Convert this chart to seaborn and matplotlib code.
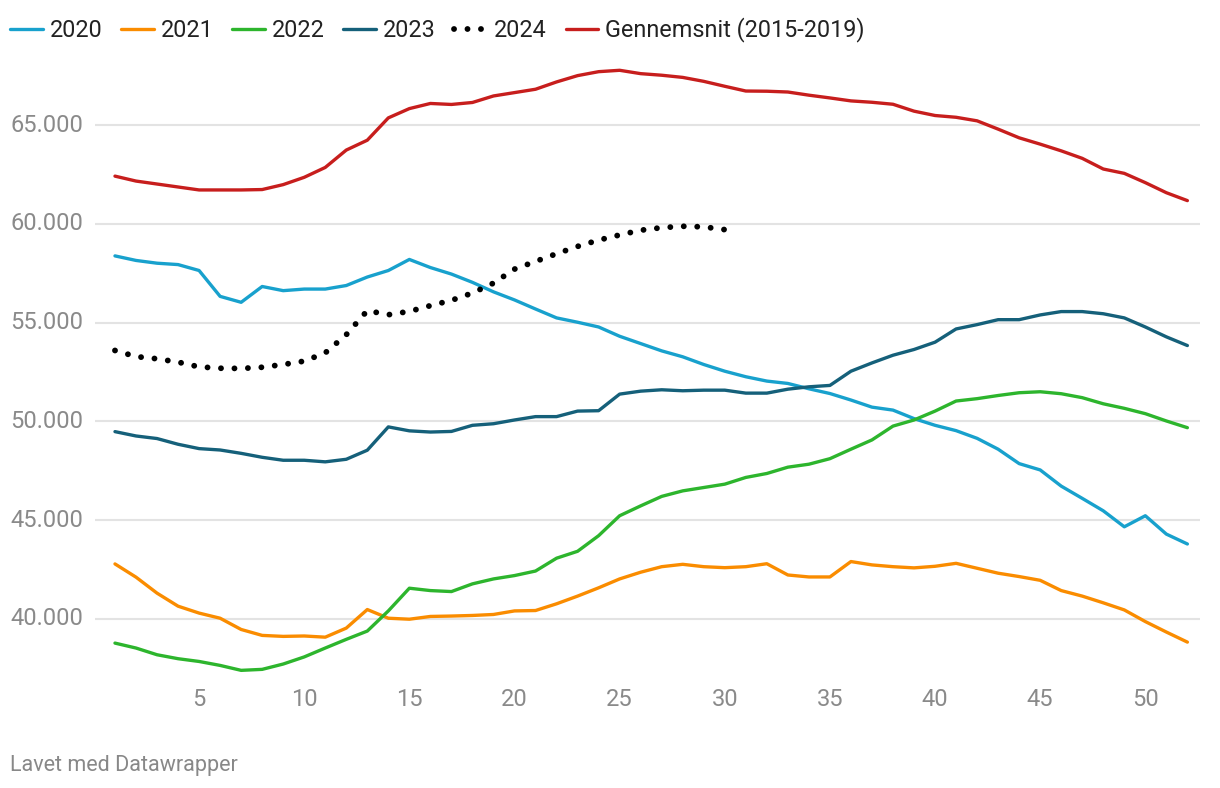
import pandas as pd
import matplotlib.pyplot as plt
import seaborn as sns

# uger 1-52
weeks = list(range(1, 53))

y2020 = [58380, 58150, 58010, 57940, 57640, 56330, 56030, 56830, 56620, 56700,
         56700, 56880, 57310, 57640, 58200, 57790, 57460, 57040, 56560, 56150,
         55690, 55240, 55020, 54780, 54310, 53940, 53570, 53270, 52880, 52540,
         52260, 52040, 51920, 51650, 51410, 51080, 50720, 50570, 50140, 49800,
         49530, 49140, 48590, 47860, 47540, 46720, 46100, 45470, 44660, 45220,
         44290, 43790]
y2021 = [42780, 42110, 41300, 40640, 40290, 40030, 39460, 39160, 39110, 39130,
         39070, 39530, 40470, 40030, 39980, 40120, 40140, 40170, 40220, 40400,
         40420, 40760, 41150, 41570, 42020, 42360, 42640, 42760, 42640, 42590,
         42640, 42790, 42220, 42120, 42120, 42900, 42730, 42640, 42580, 42660,
         42810, 42560, 42310, 42140, 41950, 41430, 41150, 40810, 40450, 39860,
         39330, 38820]
y2022 = [38770, 38520, 38180, 37980, 37840, 37640, 37390, 37440, 37710, 38070,
         38520, 38960, 39380, 40400, 41550, 41430, 41380, 41770, 42020, 42190,
         42420, 43070, 43420, 44210, 45220, 45720, 46200, 46480, 46650, 46820,
         47160, 47360, 47680, 47830, 48110, 48590, 49060, 49760, 50070, 50520,
         51030, 51150, 51310, 51450, 51500, 51400, 51200, 50890, 50660, 50390,
         50020, 49680]
y2023 = [49480, 49260, 49130, 48840, 48620, 48550, 48380, 48180, 48030, 48030,
         47950, 48080, 48540, 49720, 49520, 49460, 49490, 49800, 49880, 50070,
         50240, 50240, 50520, 50540, 51380, 51530, 51600, 51550, 51580, 51580,
         51430, 51430, 51630, 51750, 51820, 52540, 52960, 53350, 53640, 54010,
         54680, 54900, 55150, 55150, 55390, 55560, 55560, 55450, 55240, 54780,
         54280, 53840]
y2024 = [53590, 53280, 53170, 53000, 52760, 52690, 52680, 52740, 52880, 53050,
         53470, 54390, 55610, 55400, 55570, 55860, 56130, 56500, 57000, 57710,
         58100, 58490, 58860, 59180, 59440, 59680, 59810, 59880, 59850, 59710]
gennemsnit = [62420, 62170, 62020, 61870, 61720, 61720, 61720, 61740, 61990, 62360,
              62860, 63740, 64240, 65370, 65840, 66100, 66050, 66150, 66480, 66650,
              66820, 67190, 67510, 67710, 67780, 67610, 67530, 67420, 67220, 66970,
              66730, 66720, 66680, 66520, 66380, 66230, 66160, 66060, 65710, 65490,
              65400, 65220, 64800, 64360, 64040, 63700, 63320, 62780, 62560, 62090,
              61580, 61180]

series = [
    ("2020", y2020, "#18a1cd"),
    ("2021", y2021, "#fa8c00"),
    ("2022", y2022, "#2db52d"),
    ("2023", y2023, "#15607a"),
    ("2024", y2024, "#000000"),
    ("Gennemsnit (2015-2019)", gennemsnit, "#c71e1d"),
]

sns.set_theme(style="white")
plt.rcParams['font.family'] = ['Roboto', 'DejaVu Sans']

fig = plt.figure(figsize=(12.2, 7.88), dpi=100)
ax = fig.add_axes([95 / 1220, 1 - 682 / 788, 1105 / 1220, 620 / 788])

for navn, vals, farve in series:
    df = pd.DataFrame({'uge': weeks[:len(vals)], 'antal': vals})
    if navn == "2024":
        sns.lineplot(data=df, x='uge', y='antal', ax=ax, color=farve, label=navn,
                     linewidth=4.2, linestyle=(0, (0.01, 2.3)),
                     dash_capstyle='round')
    else:
        sns.lineplot(data=df, x='uge', y='antal', ax=ax, color=farve, label=navn,
                     linewidth=2.4)

ax.set_xlim(0.05, 52.6)
ax.set_ylim(36800, 68200)
ax.set_xticks([5, 10, 15, 20, 25, 30, 35, 40, 45, 50])
yt = [40000, 45000, 50000, 55000, 60000, 65000]
ax.set_yticks(yt)
ax.set_yticklabels([f"{v:,}".replace(",", ".") for v in yt])
ax.yaxis.grid(True, color='#e3e3e3', linewidth=1.5)
ax.xaxis.grid(False)
for s in ax.spines.values():
    s.set_visible(False)
ax.tick_params(axis='both', length=0, labelsize=17, labelcolor='#8a8a8a')
ax.tick_params(axis='x', pad=4)
ax.tick_params(axis='y', pad=61)
for lab in ax.get_yticklabels():
    lab.set_horizontalalignment('left')
    lab.set_verticalalignment('center')
ax.set_xlabel("")
ax.set_ylabel("")

h, l = ax.get_legend_handles_labels()
ax.get_legend().remove()
leg = fig.legend(h, l, loc='center left', bbox_to_anchor=(10 / 1220, 1 - 30 / 788),
                 ncol=6, frameon=False, fontsize=16.8, handlelength=1.4,
                 handletextpad=0.3, columnspacing=0.8, borderpad=0,
                 borderaxespad=0)
for t in leg.get_texts():
    t.set_color('#222222')

fig.text(10 / 1220, 1 - 765 / 788, "Lavet med Datawrapper", fontsize=15.5,
         color='#888888', va='center', ha='left')

plt.savefig("out.png", dpi=100)
plt.close()
